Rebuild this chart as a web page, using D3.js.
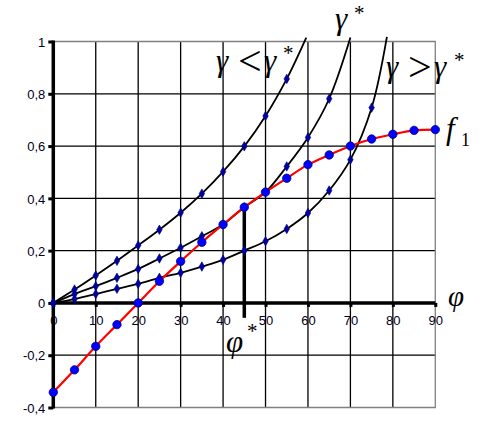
<!DOCTYPE html>
<html><head><meta charset="utf-8">
<script src="https://cdn.jsdelivr.net/npm/d3@7"></script>
<style>body{margin:0;background:#fff}svg{display:block}</style>
</head><body>
<svg id="c" width="485" height="428"></svg>
<script>
const phi = [0,5,10,15,20,25,30,35,40,45,50,55,60,65,70,75,80,85,90];
const f1 = [-0.342,-0.256,-0.166,-0.083,0.0,0.083,0.159,0.232,0.300,0.366,0.424,0.477,0.529,0.566,0.600,0.627,0.645,0.660,0.663];
const gammaLess = [0,0.051,0.105,0.161,0.220,0.280,0.345,0.418,0.502,0.599,0.715,0.857];
const gammaLessEnd = [59.6,1.015];
const gammaStar = [0,0.034,0.064,0.096,0.130,0.170,0.211,0.255,0.300,0.366,0.424,0.522,0.633,0.781];
const gammaStarEnd = [70,1.015];
const gammaMore = [0,0.015,0.034,0.054,0.073,0.096,0.115,0.139,0.165,0.200,0.236,0.283,0.344,0.430,0.548,0.747];
const gammaMoreEnd = [78.6,1.018];
const xTicks = [0,10,20,30,40,50,60,70,80,90];
const yTicks = [-0.4,-0.2,0,0.2,0.4,0.6,0.8,1];
const phiStar = 45;
const phiStarRange = [-0.057,0.375];

const svg = d3.select('#c');
const x = d3.scaleLinear().domain([0,90]).range([53.3,435.3]);
const y = d3.scaleLinear().domain([-0.4,1]).range([407.5,41.5]);

// gridlines
const g = svg.append('g');
g.selectAll('.vg').data(xTicks.filter(d=>d>0&&d<90)).enter().append('line')
 .attr('x1',d=>x(d)).attr('x2',d=>x(d)).attr('y1',y(1)).attr('y2',y(-0.4))
 .attr('stroke','#000').attr('stroke-width',1.3);
g.selectAll('.hg').data(yTicks.filter(d=>d!==0&&d!==1&&d!==-0.4)).enter().append('line')
 .attr('x1',x(0)).attr('x2',x(90)).attr('y1',d=>y(d)).attr('y2',d=>y(d))
 .attr('stroke','#000').attr('stroke-width',1.3);
g.append('path').attr('d',`M${x(0)},${y(1)}H${x(90)}V${y(-0.4)}H${x(0)}`)
 .attr('fill','none').attr('stroke','#808080').attr('stroke-width',1.3);

// axes
const xAxis = d3.axisBottom(x).tickValues(xTicks).tickSize(4).tickFormat(d3.format('d'));
const ax = svg.append('g').attr('transform',`translate(0,${y(0)})`).call(xAxis);
ax.select('.domain').attr('stroke','#000').attr('stroke-width',3.5).attr('d',`M${x(0)},0H${x(90)}`);
ax.selectAll('.tick line').attr('stroke-width',3).attr('y1',0);
ax.selectAll('.tick text').attr('font-family','Liberation Sans, Arial, sans-serif').attr('font-size',13).attr('fill','#000020').attr('dy','0.75em').attr('y',12);

const yAxis = d3.axisLeft(y).tickValues(yTicks).tickSize(5).tickFormat(d=>{
  if(Math.abs(d)<1e-9) return '0';
  if(d===1) return '1';
  return d3.format('.1f')(d).replace('.',',').replace('−','-');
});
const ay = svg.append('g').attr('transform',`translate(${x(0)},0)`).call(yAxis);
ay.select('.domain').attr('stroke','#000').attr('stroke-width',3.5).attr('d',`M0,${y(1)-1}V${y(-0.4)+1}`);
ay.selectAll('.tick line').attr('stroke-width',3);
ay.selectAll('.tick text').attr('font-family','Liberation Sans, Arial, sans-serif').attr('font-size',13).attr('fill','#000020').attr('x',-8).attr('dy','0.36em');

// phi* vertical
svg.append('line').attr('x1',x(phiStar)).attr('x2',x(phiStar)).attr('y1',y(phiStarRange[1])).attr('y2',y(phiStarRange[0]))
 .attr('stroke','#000').attr('stroke-width',3.5);

const line = d3.line().x(d=>x(d[0])).y(d=>y(d[1])).curve(d3.curveCatmullRom.alpha(0.5));

function blackSeries(vals,end){
  const pts = vals.map((v,i)=>[phi[i],v]);
  svg.append('path').datum(pts.concat([end])).attr('d',line).attr('fill','none').attr('stroke','#000').attr('stroke-width',1.8);
  return pts;
}
const pL = blackSeries(gammaLess,gammaLessEnd);
const pS = blackSeries(gammaStar,gammaStarEnd);
const pM = blackSeries(gammaMore,gammaMoreEnd);

const redPts = f1.map((v,i)=>[phi[i],v]);
svg.append('path').datum(redPts).attr('d',line).attr('fill','none').attr('stroke','#ff0000').attr('stroke-width',2.2);

const diamond = d3.symbol().type(d3.symbolDiamond).size(26);
[pL,pS,pM].forEach(pts=>{
  svg.append('g').selectAll('path').data(pts).enter().append('path')
   .attr('d',diamond).attr('transform',d=>`translate(${x(d[0])},${y(d[1])})`)
   .attr('fill','#0000a0').attr('stroke','#000080').attr('stroke-width',0.6);
});
svg.append('g').selectAll('circle').data(redPts).enter().append('circle')
 .attr('cx',d=>x(d[0])).attr('cy',d=>y(d[1])).attr('r',4.2)
 .attr('fill','#0000ff').attr('stroke','#000080').attr('stroke-width',0.8);

// labels
const serif = 'Liberation Serif, Times New Roman, serif';
function t(xp,yp,s,fs,it){
  svg.append('text').attr('x',xp).attr('y',yp).attr('font-family',serif).attr('font-size',fs)
   .attr('font-style',it?'italic':'normal').attr('fill','#000').text(s);
}
// γ < γ*
t(216,71,'γ',31,1); t(238,75,'<',42,0); t(264,71,'γ',31,1); t(283,60,'*',21,0);
// γ*
t(335,29,'γ',31,1); t(354,19.5,'*',21,0);
// γ > γ*
t(386,77,'γ',31,1); t(408,81,'>',42,0); t(434,77,'γ',31,1); t(454,67,'*',21,0);
// f1
t(446,139,'f',31,1); t(461,146,'1',18,0);
// φ
t(448,306,'φ',29,1);
// φ*
t(226,352,'φ',31,1); t(247,338,'*',21,0);
</script>
</body></html>
